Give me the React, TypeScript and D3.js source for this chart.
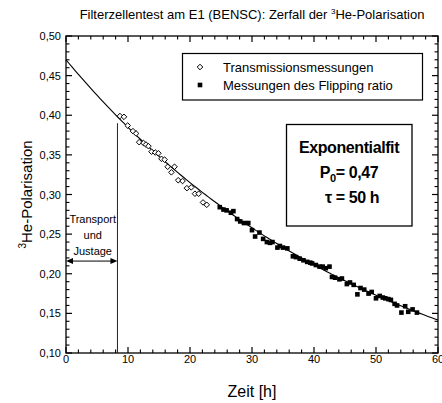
import React from 'react';
import * as d3 from 'd3';

// Transmissionsmessungen (open diamonds)
const transTime = [8.7, 9.35, 9.95, 10.8, 11.3, 11.8, 12.5, 12.9, 13.3, 13.8, 14.4, 14.9, 15.4, 15.9, 16.4, 17.0, 17.5, 18.1, 18.8, 19.5, 20.2, 20.8, 21.4, 22.1, 22.7];
const transPol = [0.399, 0.398, 0.387, 0.380, 0.377, 0.366, 0.365, 0.363, 0.361, 0.354, 0.353, 0.352, 0.345, 0.344, 0.335, 0.328, 0.335, 0.318, 0.317, 0.308, 0.309, 0.301, 0.301, 0.290, 0.287];

// Messungen des Flipping ratio (filled squares)
const flipTime = [24.8, 25.4, 25.9, 26.6, 27.0, 27.6, 28.1, 28.7, 29.4, 30.0, 30.5, 31.2, 31.8, 32.4, 32.9, 33.3, 34.1, 34.5, 35.0, 35.7, 36.6, 37.1, 37.7, 38.3, 38.9, 39.4, 39.7, 40.3, 40.9, 41.4, 41.9, 42.5, 42.9, 43.4, 44.1, 44.5, 45.3, 45.8, 46.4, 47.0, 47.5, 48.1, 48.8, 49.3, 50.0, 50.6, 51.1, 51.5, 52.0, 52.4, 53.0, 53.4, 54.1, 54.7, 55.2, 55.9, 56.6];
const flipPol = [0.284, 0.281, 0.280, 0.277, 0.279, 0.269, 0.266, 0.264, 0.264, 0.255, 0.247, 0.252, 0.244, 0.240, 0.239, 0.240, 0.233, 0.235, 0.233, 0.232, 0.222, 0.221, 0.219, 0.217, 0.215, 0.214, 0.213, 0.211, 0.209, 0.209, 0.207, 0.209, 0.196, 0.195, 0.193, 0.194, 0.187, 0.189, 0.186, 0.174, 0.182, 0.180, 0.175, 0.177, 0.169, 0.172, 0.170, 0.169, 0.168, 0.167, 0.162, 0.160, 0.151, 0.159, 0.152, 0.155, 0.151];

const xTicks = [0, 10, 20, 30, 40, 50, 60];
const xTickLabels = ['0', '10', '20', '30', '40', '50', '60'];
const yTicks = [0.10, 0.15, 0.20, 0.25, 0.30, 0.35, 0.40, 0.45, 0.50];
const yTickLabels = ['0,10', '0,15', '0,20', '0,25', '0,30', '0,35', '0,40', '0,45', '0,50'];

const fitP0 = 0.47;
const fitTau = 50;
const transportEnd = 8.3;
const transportTop = 0.39;
const arrowLevel = 0.216;

const FONT = '"Liberation Sans", Arial, Helvetica, sans-serif';

export default function App() {
  const W = 442, H = 403;
  const L = 66, R = 438, T = 36, B = 353;
  const x = d3.scaleLinear().domain([0, 60]).range([L, R]);
  const y = d3.scaleLinear().domain([0.1, 0.5]).range([B, T]);

  const fitTimes = d3.range(0, 60.001, 0.5);
  const fitLine = d3.line<number>()
    .x((t) => x(t))
    .y((t) => y(fitP0 * Math.exp(-t / fitTau)))(fitTimes) || '';

  const xMinor = d3.range(0, 60.001, 2).filter((v) => Math.abs(v % 10) > 1e-6);
  const yMinor = d3.range(10, 50.001, 1).filter((v) => v % 5 !== 0).map((v) => v / 100);

  const major = 6, minor = 3.5;
  const diamond = (cx: number, cy: number, r: number) => `M${cx},${cy - r}L${cx + r},${cy}L${cx},${cy + r}L${cx - r},${cy}Z`;

  const ax = x(transportEnd);
  const ay = y(arrowLevel);

  return (
    <svg width={W} height={H} style={{ position: 'absolute', left: 0, top: 0, display: 'block', background: '#fff' }} fontFamily={FONT}>
      <rect x={0} y={0} width={W} height={H} fill="#fff" />
      {/* title */}
      <text x={(L + R) / 2} y={19} textAnchor="middle" fontSize={13} fill="#000">
        Filterzellentest am E1 (BENSC): Zerfall der <tspan fontSize={8} dy={-5}>3</tspan><tspan dy={5}>He-Polarisation</tspan>
      </text>

      {/* frame */}
      <rect x={L} y={T} width={R - L} height={B - T} fill="none" stroke="#000" strokeWidth={1.3} />

      {/* x ticks bottom & top */}
      {xTicks.map((t) => (
        <g key={'xt' + t}>
          <line x1={x(t)} x2={x(t)} y1={B} y2={B - major} stroke="#000" strokeWidth={1.2} />
          <line x1={x(t)} x2={x(t)} y1={T} y2={T + major} stroke="#000" strokeWidth={1.2} />
        </g>
      ))}
      {xMinor.map((t) => (
        <g key={'xm' + t}>
          <line x1={x(t)} x2={x(t)} y1={B} y2={B - minor} stroke="#000" strokeWidth={1.1} />
          <line x1={x(t)} x2={x(t)} y1={T} y2={T + minor} stroke="#000" strokeWidth={1.1} />
        </g>
      ))}
      {xTicks.map((t, i) => (
        <text key={'xl' + t} x={x(t)} y={B + 10} textAnchor="middle" fontSize={11} fill="#000">{xTickLabels[i]}</text>
      ))}

      {/* y ticks left & right */}
      {yTicks.map((v) => (
        <g key={'yt' + v}>
          <line x1={L} x2={L + major} y1={y(v)} y2={y(v)} stroke="#000" strokeWidth={1.2} />
          <line x1={R} x2={R - major} y1={y(v)} y2={y(v)} stroke="#000" strokeWidth={1.2} />
        </g>
      ))}
      {yMinor.map((v) => (
        <g key={'ym' + v}>
          <line x1={L} x2={L + minor} y1={y(v)} y2={y(v)} stroke="#000" strokeWidth={1.1} />
          <line x1={R} x2={R - minor} y1={y(v)} y2={y(v)} stroke="#000" strokeWidth={1.1} />
        </g>
      ))}
      {yTicks.map((v, i) => (
        <text key={'yl' + v} x={L - 5} y={y(v) + 4} textAnchor="end" fontSize={11} fill="#000">{yTickLabels[i]}</text>
      ))}

      {/* axis titles */}
      <text x={(L + R) / 2} y={397} textAnchor="middle" fontSize={16} fill="#000">Zeit [h]</text>
      <text transform={`translate(32,${(T + B) / 2}) rotate(-90)`} textAnchor="middle" fontSize={15} fill="#000">
        <tspan fontSize={10} dy={-6}>3</tspan><tspan dy={6}>He-Polarisation</tspan>
      </text>

      {/* transport line and arrow */}
      <line x1={ax} x2={ax} y1={B} y2={y(transportTop)} stroke="#222" strokeWidth={1} />
      <line x1={L + 5} x2={ax - 5} y1={ay} y2={ay} stroke="#000" strokeWidth={1} />
      <path d={`M${L},${ay}L${L + 7},${ay - 3}L${L + 7},${ay + 3}Z`} fill="#000" />
      <path d={`M${ax},${ay}L${ax - 7},${ay - 3}L${ax - 7},${ay + 3}Z`} fill="#000" />
      <text x={(L + ax) / 2 + 1} y={223} textAnchor="middle" fontSize={11} fill="#000">Transport</text>
      <text x={(L + ax) / 2 + 1} y={239} textAnchor="middle" fontSize={11} fill="#000">und</text>
      <text x={(L + ax) / 2 + 1} y={255} textAnchor="middle" fontSize={11} fill="#000">Justage</text>

      {/* fit */}
      <path d={fitLine} fill="none" stroke="#000" strokeWidth={1.1} />

      {/* data */}
      {transTime.map((t, i) => (
        <path key={'d' + i} d={diamond(x(t), y(transPol[i]), 2.8)} fill="#fff" stroke="#000" strokeWidth={1} />
      ))}
      {flipTime.map((t, i) => (
        <rect key={'s' + i} x={x(t) - 2.3} y={y(flipPol[i]) - 2.3} width={4.6} height={4.6} fill="#000" />
      ))}

      {/* legend */}
      <rect x={182.5} y={53.5} width={240} height={46.5} fill="#fff" stroke="#000" strokeWidth={1.2} />
      <path d={diamond(200, 67, 2.8)} fill="#fff" stroke="#000" strokeWidth={1} />
      <rect x={197.7} y={82.7} width={4.6} height={4.6} fill="#000" />
      <text x={223} y={72} fontSize={13} fill="#000">Transmissionsmessungen</text>
      <text x={223} y={90} fontSize={13} fill="#000">Messungen des Flipping ratio</text>

      {/* fit box */}
      <rect x={286.5} y={124.5} width={125.5} height={101.5} fill="#fff" stroke="#000" strokeWidth={1.3} />
      <text x={349} y={153} textAnchor="middle" fontSize={16} fontWeight="bold" fill="#000" letterSpacing={-0.4}>Exponentialfit</text>
      <text x={349} y={178} textAnchor="middle" fontSize={16} fontWeight="bold" fill="#000" letterSpacing={-0.4}>
        P<tspan fontSize={11} dy={4}>0</tspan><tspan dy={-4}>= 0,47</tspan>
      </text>
      <text x={352} y={203} textAnchor="middle" fontSize={16} fontWeight="bold" fill="#000" letterSpacing={-0.4}>τ = 50 h</text>
    </svg>
  );
}
